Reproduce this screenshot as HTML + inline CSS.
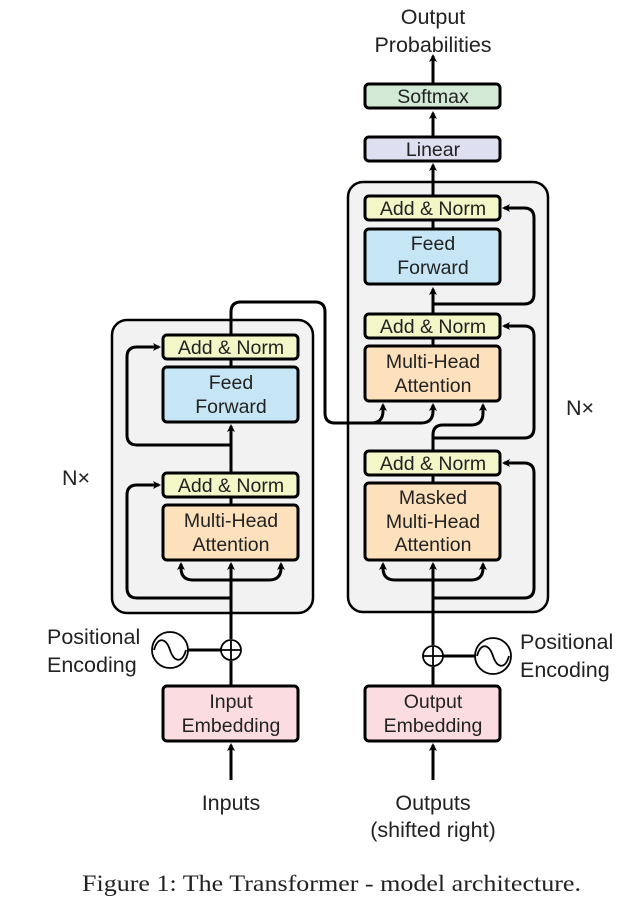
<!DOCTYPE html>
<html><head><meta charset="utf-8"><style>
html,body{margin:0;padding:0;background:#fff;}
svg text{font-family:"Liberation Sans",sans-serif;fill:#222;}
</style></head><body>
<svg width="623" height="899" viewBox="0 0 623 899" xmlns="http://www.w3.org/2000/svg">
<defs>
<marker id="a" markerWidth="8" markerHeight="8" refX="6" refY="4" orient="auto" markerUnits="userSpaceOnUse"><path d="M0,0 L8,4 L0,8 L2,4 Z" fill="#000"/></marker>
</defs>
<rect x="112" y="320" width="201" height="293" rx="15" fill="#f2f2f2" stroke="#000" stroke-width="2.5"/>
<rect x="348" y="182" width="200" height="430" rx="15" fill="#f2f2f2" stroke="#000" stroke-width="2.5"/>

<g fill="none" stroke="#000" stroke-width="3">
<line x1="231" y1="780" x2="231" y2="745" marker-end="url(#a)"/>
<line x1="231" y1="686" x2="231" y2="661"/>
<line x1="231" y1="639" x2="231" y2="564" marker-end="url(#a)"/>
<line x1="188" y1="650" x2="221" y2="650"/>
<path d="M231,580 H193 Q181,580 181,568 V564" marker-end="url(#a)"/>
<path d="M231,580 H269 Q281,580 281,568 V564" marker-end="url(#a)"/>
<path d="M231,598 H137 Q127,598 127,588 V495 Q127,485 137,485 H159" marker-end="url(#a)"/>
<line x1="231" y1="560" x2="231" y2="473"/>
<line x1="231" y1="473" x2="231" y2="426" marker-end="url(#a)"/>
<path d="M231,445 H137 Q127,445 127,435 V357 Q127,347 137,347 H159" marker-end="url(#a)"/>
<line x1="231" y1="367" x2="231" y2="359"/>
<path d="M231,335 V312 Q231,302 241,302 H315 Q325,302 325,312 V413 Q325,423 335,423 H371 Q383,423 383,411 V405" marker-end="url(#a)"/>
<path d="M371,423 H421 Q433,423 433,411 V405" marker-end="url(#a)"/>
<line x1="433" y1="780" x2="433" y2="745" marker-end="url(#a)"/>
<line x1="433" y1="686" x2="433" y2="667"/>
<line x1="433" y1="645" x2="433" y2="564" marker-end="url(#a)"/>
<line x1="443" y1="656" x2="475" y2="656"/>
<path d="M433,580 H395 Q383,580 383,568 V564" marker-end="url(#a)"/>
<path d="M433,580 H471 Q483,580 483,568 V564" marker-end="url(#a)"/>
<path d="M433,598 H524 Q534,598 534,588 V473 Q534,463 524,463 H504" marker-end="url(#a)"/>
<line x1="433" y1="483" x2="433" y2="475"/>
<path d="M433,451 V435 Q433,425 443,425 H471 Q483,425 483,413 V405" marker-end="url(#a)"/>
<path d="M433,438 H524 Q534,438 534,428 V336 Q534,326 524,326 H504" marker-end="url(#a)"/>
<line x1="433" y1="346" x2="433" y2="338"/>
<line x1="433" y1="314" x2="433" y2="289" marker-end="url(#a)"/>
<path d="M433,304 H524 Q534,304 534,294 V218 Q534,208 524,208 H504" marker-end="url(#a)"/>
<line x1="433" y1="229" x2="433" y2="221"/>
<line x1="433" y1="196" x2="433" y2="165" marker-end="url(#a)"/>
<line x1="433" y1="137" x2="433" y2="113" marker-end="url(#a)"/>
<line x1="433" y1="83" x2="433" y2="56" marker-end="url(#a)"/>
</g>

<g stroke="#000" stroke-width="3">
<rect x="163" y="335" width="135" height="24" rx="4" fill="#f3f6c7"/>
<rect x="163" y="367" width="135" height="55" rx="4" fill="#c6e6f5"/>
<rect x="163" y="473" width="135" height="24" rx="4" fill="#f3f6c7"/>
<rect x="163" y="505" width="135" height="55" rx="4" fill="#fde1bd"/>
<rect x="163" y="686" width="135" height="55" rx="4" fill="#fbdde1"/>
<rect x="365" y="196" width="135" height="24" rx="4" fill="#f3f6c7"/>
<rect x="365" y="229" width="135" height="55" rx="4" fill="#c6e6f5"/>
<rect x="365" y="314" width="135" height="24" rx="4" fill="#f3f6c7"/>
<rect x="365" y="346" width="135" height="55" rx="4" fill="#fde1bd"/>
<rect x="365" y="451" width="135" height="24" rx="4" fill="#f3f6c7"/>
<rect x="365" y="483" width="135" height="77" rx="4" fill="#fde1bd"/>
<rect x="365" y="686" width="135" height="55" rx="4" fill="#fbdde1"/>
<rect x="365" y="137" width="135" height="24" rx="4" fill="#dfdff2"/>
<rect x="365" y="84" width="135" height="24" rx="4" fill="#d2ead6"/>
</g>

<g fill="#fff" stroke="#000" stroke-width="1.8">
<circle cx="170" cy="650" r="18"/>
<path d="M154,650 C158,636 166,638 170,650 C174,662 182,664 186,650" fill="none"/>
<circle cx="231" cy="650" r="10"/>
<path d="M221,650 H241 M231,640 V660" fill="none"/>
<circle cx="493" cy="656" r="18"/>
<path d="M477,656 C481,642 489,644 493,656 C497,668 505,670 509,656" fill="none"/>
<circle cx="433" cy="656" r="10"/>
<path d="M423,656 H443 M433,646 V666" fill="none"/>
</g>

<g font-size="19.5" text-anchor="middle">
<text x="231" y="354">Add &amp; Norm</text>
<text x="231" y="389">Feed</text>
<text x="231" y="413">Forward</text>
<text x="231" y="492">Add &amp; Norm</text>
<text x="231" y="527">Multi-Head</text>
<text x="231" y="551">Attention</text>
<text x="231" y="708">Input</text>
<text x="231" y="732">Embedding</text>
<text x="433" y="215">Add &amp; Norm</text>
<text x="433" y="250">Feed</text>
<text x="433" y="274">Forward</text>
<text x="433" y="333">Add &amp; Norm</text>
<text x="433" y="368">Multi-Head</text>
<text x="433" y="392">Attention</text>
<text x="433" y="470">Add &amp; Norm</text>
<text x="433" y="504">Masked</text>
<text x="433" y="528">Multi-Head</text>
<text x="433" y="551">Attention</text>
<text x="433" y="708">Output</text>
<text x="433" y="732">Embedding</text>
<text x="433" y="156">Linear</text>
<text x="433" y="103">Softmax</text>
</g>
<g font-size="21.5" text-anchor="middle">
<text x="433" y="24">Output</text>
<text x="433" y="52">Probabilities</text>
<text x="231" y="810">Inputs</text>
<text x="433" y="810">Outputs</text>
<text x="433" y="837">(shifted right)</text>
</g>
<g font-size="21.5">
<text x="47" y="644">Positional</text>
<text x="47" y="672">Encoding</text>
<text x="520" y="649">Positional</text>
<text x="520" y="677">Encoding</text>
<text x="62" y="485">N×</text>
<text x="566" y="415">N×</text>
</g>
<text x="82" y="891" font-size="23" textLength="499" lengthAdjust="spacingAndGlyphs" style="font-family:'Liberation Serif',serif">Figure 1: The Transformer - model architecture.</text>
</svg>
</body></html>
